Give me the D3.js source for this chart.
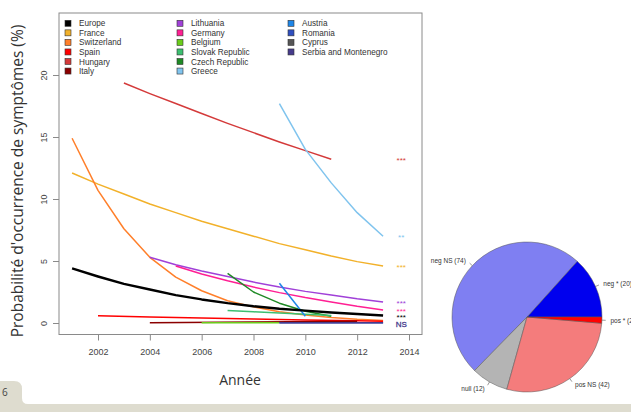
<!DOCTYPE html>
<html>
<head>
<meta charset="utf-8">
<script src="https://cdn.jsdelivr.net/npm/d3@7/dist/d3.min.js"></script>
<style>
  html, body { margin: 0; padding: 0; background: #fff; }
  svg { display: block; }
</style>
</head>
<body>
<script>
// Annual probability of symptom occurrence (%) per country
const countries = ["Europe", "France", "Switzerland", "Spain", "Hungary", "Italy",
  "Lithuania", "Germany", "Belgium", "Slovak Republic", "Czech Republic", "Greece",
  "Austria", "Romania", "Cyprus", "Serbia and Montenegro"];
const colors = ["#000000", "#f2b12a", "#ff7f2a", "#ff0000", "#d43a3a", "#8b0000",
  "#a040d8", "#ff1f93", "#6acc1a", "#3cbf70", "#1f8a25", "#80c4ee",
  "#1e86e8", "#2f4fc0", "#555555", "#463b8c"];

const yearsEurope = [2001, 2002, 2003, 2004, 2005, 2006, 2007, 2008, 2009, 2010, 2011, 2012, 2013];
const europe      = [4.4, 3.75, 3.15, 2.7, 2.25, 1.9, 1.6, 1.35, 1.15, 1.0, 0.85, 0.72, 0.6];
const yearsFrance = [2001, 2002, 2003, 2004, 2005, 2006, 2007, 2008, 2009, 2010, 2011, 2012, 2013];
const france      = [12.1, 11.2, 10.4, 9.6, 8.9, 8.2, 7.6, 7.0, 6.4, 5.9, 5.4, 4.95, 4.6];
const yearsSwitz  = [2001, 2002, 2003, 2004, 2005, 2006, 2007, 2008, 2009, 2010, 2011, 2012, 2013];
const switzerland = [14.9, 10.7, 7.6, 5.3, 3.7, 2.6, 1.8, 1.3, 0.9, 0.65, 0.45, 0.3, 0.2];
const yearsSpain  = [2002, 2004, 2006, 2008, 2010, 2012, 2013];
const spain       = [0.58, 0.48, 0.4, 0.32, 0.25, 0.18, 0.15];
const yearsHungary = [2003, 2004, 2005, 2006, 2007, 2008, 2009, 2010, 2011];
const hungary      = [19.35, 18.5, 17.7, 16.9, 16.1, 15.35, 14.6, 13.9, 13.2];
const yearsItaly  = [2004, 2008, 2012];
const italy       = [0.03, 0.08, 0.15];
const yearsLithuania = [2004, 2005, 2006, 2007, 2008, 2009, 2010, 2011, 2012, 2013];
const lithuania      = [5.3, 4.7, 4.2, 3.75, 3.3, 2.9, 2.55, 2.25, 1.95, 1.7];
const yearsGermany = [2005, 2006, 2007, 2008, 2009, 2010, 2011, 2012, 2013];
const germany      = [4.6, 3.95, 3.4, 2.9, 2.45, 2.05, 1.7, 1.35, 1.05];
const yearsBelgium = [2006, 2007, 2008, 2009];
const belgium      = [0.02, 0.02, 0.02, 0.02];
const yearsSlovak  = [2007, 2008, 2009, 2010, 2011];
const slovak       = [1.0, 0.9, 0.8, 0.7, 0.6];
const yearsCzech   = [2007, 2008, 2009, 2010, 2011];
const czech        = [4.0, 2.5, 1.6, 0.95, 0.55];
const yearsGreece  = [2009, 2010, 2011, 2012, 2013];
const greece       = [17.7, 14.0, 11.3, 8.9, 7.0];
const yearsAustria = [2009, 2010];
const austria      = [3.2, 0.55];
const yearsRomania = [2009, 2011, 2013];
const romania      = [0.02, 0.02, 0.02];
const yearsCyprus  = [];
const cyprus       = [];
const yearsSerbia  = [2009, 2011, 2013];
const serbia       = [0.03, 0.03, 0.03];

const seriesYears = [yearsEurope, yearsFrance, yearsSwitz, yearsSpain, yearsHungary, yearsItaly,
  yearsLithuania, yearsGermany, yearsBelgium, yearsSlovak, yearsCzech, yearsGreece,
  yearsAustria, yearsRomania, yearsCyprus, yearsSerbia];
const seriesValues = [europe, france, switzerland, spain, hungary, italy,
  lithuania, germany, belgium, slovak, czech, greece,
  austria, romania, cyprus, serbia];

// Trend significance markers printed at the end of each curve
const sigSeries = ["Hungary", "Greece", "France", "Lithuania", "Germany", "Europe", "Serbia and Montenegro"];
const sigText   = ["***", "**", "***", "***", "***", "***", "NS"];

const xTicks = [2002, 2004, 2006, 2008, 2010, 2012, 2014];
const yTicks = [0, 5, 10, 15, 20];

// Summary of trend directions over all series
const pieLabels = ["neg *", "neg NS", "null", "pos NS", "pos *"];
const pieCounts = [20, 74, 12, 42, 2];
const pieColors = ["#0000ee", "#7f7ff2", "#b4b4b4", "#f47c7c", "#ff0000"];

const W = 631, H = 412;
const svg = d3.select("body").append("svg").attr("width", W).attr("height", H);

// slide footer band with page tab
const footer = svg.append("g");
footer.append("rect").attr("x", 0).attr("y", 404).attr("width", W).attr("height", 8).attr("fill", "#dedccf");
footer.append("path")
  .attr("d", "M0,381 L14,381 Q22,381 22,389 L22,404 L0,404 Z")
  .attr("fill", "#dedccf");
footer.append("path")
  .attr("d", "M22,398 L22,404 L28,404 Q22,404 22,398 Z")
  .attr("fill", "#dedccf");
footer.append("text").attr("x", 2).attr("y", 396)
  .attr("font-family", "Open Sans, sans-serif").attr("font-size", 10).attr("fill", "#444")
  .text("6");

const x = d3.scaleLinear().domain([2002, 2014]).range([98, 409]);
const y = d3.scaleLinear().domain([0, 20]).range([323, 75]);

const frame = { left: 59, right: 422, top: 13, bottom: 334.5 };
const axisColor = "#8a8a8a";

svg.append("rect")
  .attr("x", frame.left).attr("y", frame.top)
  .attr("width", frame.right - frame.left).attr("height", frame.bottom - frame.top)
  .attr("fill", "none").attr("stroke", axisColor).attr("stroke-width", 1);

// x axis
const xAxis = svg.append("g").attr("transform", `translate(0,${frame.bottom})`)
  .call(d3.axisBottom(x).tickValues(xTicks).tickFormat(d3.format("d")).tickSize(6).tickPadding(8));
xAxis.select(".domain").remove();
xAxis.selectAll("line").attr("stroke", axisColor);
xAxis.selectAll("text").attr("font-family", "Liberation Sans, Arial, sans-serif")
  .attr("font-size", 9).attr("fill", "#444");

// y axis
const yAxis = svg.append("g").attr("transform", `translate(${frame.left},0)`)
  .call(d3.axisLeft(y).tickValues(yTicks).tickSize(6).tickPadding(0));
yAxis.select(".domain").remove();
yAxis.selectAll("line").attr("stroke", axisColor);
yAxis.selectAll("text")
  .attr("font-family", "Liberation Sans, Arial, sans-serif")
  .attr("font-size", 9).attr("fill", "#444")
  .attr("text-anchor", "middle").attr("dy", null)
  .attr("transform", "translate(-15,0) rotate(-90)")
  .attr("x", 0).attr("y", 0)
  .attr("dominant-baseline", "central");

// axis titles
svg.append("text").attr("x", 240).attr("y", 385).attr("text-anchor", "middle")
  .attr("font-family", "Open Sans, sans-serif").attr("font-size", 14).attr("fill", "#333")
  .text("Année");
svg.append("text")
  .attr("transform", "translate(23,181) rotate(-90)").attr("text-anchor", "middle")
  .attr("font-family", "Open Sans, sans-serif").attr("font-size", 15.5).attr("fill", "#333")
  .text("Probabilité d'occurrence de symptômes (%)");

// curves
const line = d3.line().x(d => x(d[0])).y(d => y(d[1]));
const lines = svg.append("g").attr("fill", "none").attr("stroke-linejoin", "round");
const drawOrder = [1, 2, 4, 11, 6, 7, 10, 9, 12, 3, 5, 8, 13, 14, 15, 0];
drawOrder.forEach(i => {
  const pts = seriesYears[i].map((yr, k) => [yr, seriesValues[i][k]]);
  if (pts.length < 2) return;
  lines.append("path").attr("d", line(pts))
    .attr("stroke", colors[i]).attr("stroke-width", i === 0 ? 2.4 : 1.5);
});

// significance markers
const sig = svg.append("g").attr("font-family", "Liberation Sans, Arial, sans-serif");
sigSeries.forEach((name, k) => {
  const i = countries.indexOf(name);
  const vals = seriesValues[i];
  const last = vals[vals.length - 1];
  const isNS = sigText[k] === "NS";
  sig.append("text")
    .attr("x", x(2013.7)).attr("y", y(last) + 4)
    .attr("text-anchor", "middle")
    .attr("font-size", 8)
    .attr("fill", colors[i])
    .attr("stroke", isNS ? colors[i] : "none").attr("stroke-width", isNS ? 0.3 : 0)
    .text(sigText[k]);
});

// legend
const legend = svg.append("g").attr("font-family", "Liberation Sans, Arial, sans-serif")
  .attr("font-size", 8.2).attr("fill", "#333");
const colX = [68, 180, 291];
countries.forEach((name, i) => {
  const col = Math.floor(i / 6), row = i % 6;
  const cy = 23.3 + row * 9.55;
  legend.append("rect").attr("x", colX[col] - 3).attr("y", cy - 3)
    .attr("width", 6).attr("height", 6)
    .attr("fill", colors[i]).attr("stroke", "#333").attr("stroke-width", 0.6);
  legend.append("text").attr("x", colX[col] + 11).attr("y", cy + 3).text(name);
});

// pie of trend directions, counter-clockwise from 3 o'clock
const cx = 527, cy = 317, r = 75;
const total = d3.sum(pieCounts);
let acc = 0;
const pieG = svg.append("g");
const pieText = svg.append("g").attr("font-family", "Liberation Sans, Arial, sans-serif")
  .attr("font-size", 6.5).attr("fill", "#333");
pieCounts.forEach((c, i) => {
  const a0 = acc / total * 2 * Math.PI;
  acc += c;
  const a1 = acc / total * 2 * Math.PI;
  // d3.arc measures angles clockwise from 12 o'clock
  const arc = d3.arc().innerRadius(0).outerRadius(r)
    .startAngle(Math.PI / 2 - a1).endAngle(Math.PI / 2 - a0);
  pieG.append("path").attr("d", arc()).attr("transform", `translate(${cx},${cy})`)
    .attr("fill", pieColors[i]).attr("stroke", "#555").attr("stroke-width", 0.5);
  const am = (a0 + a1) / 2;
  const ux = Math.cos(am), uy = -Math.sin(am);
  pieText.append("line")
    .attr("x1", cx + ux * r).attr("y1", cy + uy * r)
    .attr("x2", cx + ux * r * 1.05).attr("y2", cy + uy * r * 1.05)
    .attr("stroke", "#555").attr("stroke-width", 0.6);
  pieText.append("text")
    .attr("x", cx + ux * r * 1.1 + (ux > 0 ? 1 : -1)).attr("y", cy + uy * r * 1.1 + 2.3)
    .attr("text-anchor", ux > 0 ? "start" : "end")
    .text(`${pieLabels[i]} (${c})`);
});
</script>
</body>
</html>
